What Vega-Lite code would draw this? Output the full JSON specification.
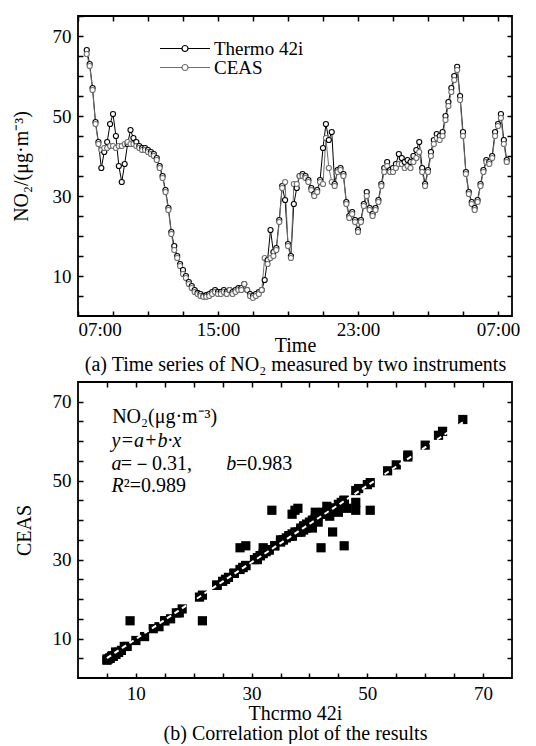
{
  "$schema": "https://vega.github.io/schema/vega-lite/v6.json",
  "padding": {"left": 10, "top": 14, "right": 10, "bottom": 0},
  "spacing": 5,
  "config": {
    "font": "Liberation Serif",
    "view": {"stroke": "black", "strokeWidth": 1.8},
    "axis": {
      "labelFont": "Liberation Serif", "titleFont": "Liberation Serif",
      "labelFontSize": 19, "titleFontSize": 20, "titleFontWeight": "normal",
      "labelColor": "black", "titleColor": "black", "tickColor": "black",
      "domain": false, "grid": false, "tickSize": -5, "tickWidth": 1.5
    },
    "legend": {"labelFont": "Liberation Serif", "labelFontSize": 19, "labelColor": "black", "padding": 0, "rowPadding": -1}
  },
  "data": {"values": [
    {"time":"2019-05-01T07:30","thermo":66.5,"ceas":65.5},
    {"time":"2019-05-01T07:40","thermo":63,"ceas":62.5},
    {"time":"2019-05-01T07:50","thermo":57,"ceas":56.5},
    {"time":"2019-05-01T08:00","thermo":48.5,"ceas":48},
    {"time":"2019-05-01T08:10","thermo":43.5,"ceas":43},
    {"time":"2019-05-01T08:20","thermo":37,"ceas":41.5},
    {"time":"2019-05-01T08:30","thermo":41,"ceas":42},
    {"time":"2019-05-01T08:40","thermo":43.5,"ceas":42},
    {"time":"2019-05-01T08:50","thermo":48,"ceas":42.5},
    {"time":"2019-05-01T09:00","thermo":50.5,"ceas":42.5},
    {"time":"2019-05-01T09:10","thermo":45,"ceas":42},
    {"time":"2019-05-01T09:20","thermo":37.5,"ceas":42.5},
    {"time":"2019-05-01T09:30","thermo":33.5,"ceas":42.5},
    {"time":"2019-05-01T09:40","thermo":38,"ceas":43},
    {"time":"2019-05-01T09:50","thermo":43,"ceas":43.5},
    {"time":"2019-05-01T10:00","thermo":46.5,"ceas":43},
    {"time":"2019-05-01T10:10","thermo":44.5,"ceas":43},
    {"time":"2019-05-01T10:20","thermo":43.5,"ceas":42.5},
    {"time":"2019-05-01T10:30","thermo":42.5,"ceas":42},
    {"time":"2019-05-01T10:40","thermo":42,"ceas":41.5},
    {"time":"2019-05-01T10:50","thermo":42,"ceas":41.5},
    {"time":"2019-05-01T11:00","thermo":41.5,"ceas":41},
    {"time":"2019-05-01T11:10","thermo":41,"ceas":40.5},
    {"time":"2019-05-01T11:20","thermo":40.5,"ceas":40},
    {"time":"2019-05-01T11:30","thermo":39.5,"ceas":39},
    {"time":"2019-05-01T11:40","thermo":37.5,"ceas":37},
    {"time":"2019-05-01T11:50","thermo":35,"ceas":34.5},
    {"time":"2019-05-01T12:00","thermo":31.5,"ceas":31},
    {"time":"2019-05-01T12:10","thermo":27,"ceas":26.5},
    {"time":"2019-05-01T12:20","thermo":21,"ceas":20.5},
    {"time":"2019-05-01T12:30","thermo":17.5,"ceas":16.5},
    {"time":"2019-05-01T12:40","thermo":15,"ceas":14.5},
    {"time":"2019-05-01T12:50","thermo":13,"ceas":12.5},
    {"time":"2019-05-01T13:00","thermo":11.5,"ceas":10.5},
    {"time":"2019-05-01T13:10","thermo":10,"ceas":9.5},
    {"time":"2019-05-01T13:20","thermo":8.5,"ceas":8},
    {"time":"2019-05-01T13:30","thermo":7.5,"ceas":7},
    {"time":"2019-05-01T13:40","thermo":6.5,"ceas":6},
    {"time":"2019-05-01T13:50","thermo":5.8,"ceas":5.5},
    {"time":"2019-05-01T14:00","thermo":5.5,"ceas":5},
    {"time":"2019-05-01T14:10","thermo":5,"ceas":4.8},
    {"time":"2019-05-01T14:20","thermo":5.2,"ceas":4.8},
    {"time":"2019-05-01T14:30","thermo":5.5,"ceas":5},
    {"time":"2019-05-01T14:40","thermo":6,"ceas":5.5},
    {"time":"2019-05-01T14:50","thermo":6.5,"ceas":6},
    {"time":"2019-05-01T15:00","thermo":6,"ceas":5.5},
    {"time":"2019-05-01T15:10","thermo":6,"ceas":5.5},
    {"time":"2019-05-01T15:20","thermo":6.5,"ceas":6},
    {"time":"2019-05-01T15:30","thermo":6,"ceas":5.5},
    {"time":"2019-05-01T15:40","thermo":6.5,"ceas":6.5},
    {"time":"2019-05-01T15:50","thermo":6,"ceas":5.5},
    {"time":"2019-05-01T16:00","thermo":6.5,"ceas":6},
    {"time":"2019-05-01T16:10","thermo":7,"ceas":6.5},
    {"time":"2019-05-01T16:20","thermo":7,"ceas":6.5},
    {"time":"2019-05-01T16:30","thermo":8,"ceas":8},
    {"time":"2019-05-01T16:40","thermo":6.5,"ceas":6.5},
    {"time":"2019-05-01T16:50","thermo":5.5,"ceas":5},
    {"time":"2019-05-01T17:00","thermo":5,"ceas":4.5},
    {"time":"2019-05-01T17:10","thermo":5.5,"ceas":5},
    {"time":"2019-05-01T17:20","thermo":6,"ceas":5.5},
    {"time":"2019-05-01T17:30","thermo":6.5,"ceas":6.5},
    {"time":"2019-05-01T17:40","thermo":9,"ceas":14.5},
    {"time":"2019-05-01T17:50","thermo":14,"ceas":13},
    {"time":"2019-05-01T18:00","thermo":21.5,"ceas":14.5},
    {"time":"2019-05-01T18:10","thermo":16,"ceas":15},
    {"time":"2019-05-01T18:20","thermo":17,"ceas":16.5},
    {"time":"2019-05-01T18:30","thermo":24,"ceas":23.5},
    {"time":"2019-05-01T18:40","thermo":32.5,"ceas":32},
    {"time":"2019-05-01T18:50","thermo":29,"ceas":33.5},
    {"time":"2019-05-01T19:00","thermo":18,"ceas":17.5},
    {"time":"2019-05-01T19:10","thermo":15,"ceas":14.5},
    {"time":"2019-05-01T19:20","thermo":28,"ceas":33},
    {"time":"2019-05-01T19:30","thermo":32,"ceas":33},
    {"time":"2019-05-01T19:40","thermo":35,"ceas":35},
    {"time":"2019-05-01T19:50","thermo":35.5,"ceas":35},
    {"time":"2019-05-01T20:00","thermo":35,"ceas":34.5},
    {"time":"2019-05-01T20:10","thermo":34,"ceas":33.5},
    {"time":"2019-05-01T20:20","thermo":32,"ceas":31.5},
    {"time":"2019-05-01T20:30","thermo":30.5,"ceas":30},
    {"time":"2019-05-01T20:40","thermo":31.5,"ceas":31},
    {"time":"2019-05-01T20:50","thermo":34,"ceas":33.5},
    {"time":"2019-05-01T21:00","thermo":42,"ceas":33},
    {"time":"2019-05-01T21:10","thermo":48,"ceas":44.5},
    {"time":"2019-05-01T21:20","thermo":44,"ceas":37},
    {"time":"2019-05-01T21:30","thermo":46,"ceas":33.5},
    {"time":"2019-05-01T21:40","thermo":33,"ceas":32.5},
    {"time":"2019-05-01T21:50","thermo":36.5,"ceas":36},
    {"time":"2019-05-01T22:00","thermo":37,"ceas":36.5},
    {"time":"2019-05-01T22:10","thermo":35.5,"ceas":35},
    {"time":"2019-05-01T22:20","thermo":28.5,"ceas":28},
    {"time":"2019-05-01T22:30","thermo":25,"ceas":24.5},
    {"time":"2019-05-01T22:40","thermo":26,"ceas":25.5},
    {"time":"2019-05-01T22:50","thermo":24,"ceas":23.5},
    {"time":"2019-05-01T23:00","thermo":21.5,"ceas":21},
    {"time":"2019-05-01T23:10","thermo":24,"ceas":23.5},
    {"time":"2019-05-01T23:20","thermo":28,"ceas":27.5},
    {"time":"2019-05-01T23:30","thermo":31,"ceas":30},
    {"time":"2019-05-01T23:40","thermo":27,"ceas":26.5},
    {"time":"2019-05-01T23:50","thermo":25.5,"ceas":25},
    {"time":"2019-05-02T00:00","thermo":27,"ceas":26.5},
    {"time":"2019-05-02T00:10","thermo":29,"ceas":28.5},
    {"time":"2019-05-02T00:20","thermo":33,"ceas":32.5},
    {"time":"2019-05-02T00:30","thermo":37,"ceas":36},
    {"time":"2019-05-02T00:40","thermo":38.5,"ceas":37.5},
    {"time":"2019-05-02T00:50","thermo":36.5,"ceas":36},
    {"time":"2019-05-02T01:00","thermo":37,"ceas":36},
    {"time":"2019-05-02T01:10","thermo":38,"ceas":37},
    {"time":"2019-05-02T01:20","thermo":40.5,"ceas":38},
    {"time":"2019-05-02T01:30","thermo":39.5,"ceas":38},
    {"time":"2019-05-02T01:40","thermo":38.5,"ceas":37},
    {"time":"2019-05-02T01:50","thermo":39,"ceas":37.5},
    {"time":"2019-05-02T02:00","thermo":38.5,"ceas":37},
    {"time":"2019-05-02T02:10","thermo":40,"ceas":38.5},
    {"time":"2019-05-02T02:20","thermo":41.5,"ceas":39.5},
    {"time":"2019-05-02T02:30","thermo":43.5,"ceas":41},
    {"time":"2019-05-02T02:40","thermo":37,"ceas":36},
    {"time":"2019-05-02T02:50","thermo":33,"ceas":32.5},
    {"time":"2019-05-02T03:00","thermo":36.5,"ceas":36},
    {"time":"2019-05-02T03:10","thermo":41,"ceas":40},
    {"time":"2019-05-02T03:20","thermo":44,"ceas":43},
    {"time":"2019-05-02T03:30","thermo":45.5,"ceas":44.5},
    {"time":"2019-05-02T03:40","thermo":45,"ceas":44},
    {"time":"2019-05-02T03:50","thermo":46,"ceas":45},
    {"time":"2019-05-02T04:00","thermo":50,"ceas":49},
    {"time":"2019-05-02T04:10","thermo":53.5,"ceas":52.5},
    {"time":"2019-05-02T04:20","thermo":57,"ceas":56},
    {"time":"2019-05-02T04:30","thermo":60,"ceas":59},
    {"time":"2019-05-02T04:40","thermo":62.3,"ceas":61.5},
    {"time":"2019-05-02T04:50","thermo":55,"ceas":54},
    {"time":"2019-05-02T05:00","thermo":46,"ceas":45},
    {"time":"2019-05-02T05:10","thermo":36,"ceas":35.5},
    {"time":"2019-05-02T05:20","thermo":31,"ceas":30.5},
    {"time":"2019-05-02T05:30","thermo":28.5,"ceas":28},
    {"time":"2019-05-02T05:40","thermo":27,"ceas":26.5},
    {"time":"2019-05-02T05:50","thermo":29,"ceas":28.5},
    {"time":"2019-05-02T06:00","thermo":33,"ceas":32.5},
    {"time":"2019-05-02T06:10","thermo":36.5,"ceas":36},
    {"time":"2019-05-02T06:20","thermo":39,"ceas":38.5},
    {"time":"2019-05-02T06:30","thermo":38.5,"ceas":38},
    {"time":"2019-05-02T06:40","thermo":40,"ceas":39.5},
    {"time":"2019-05-02T06:50","thermo":46,"ceas":45},
    {"time":"2019-05-02T07:00","thermo":48,"ceas":47.5},
    {"time":"2019-05-02T07:10","thermo":50.5,"ceas":49.5},
    {"time":"2019-05-02T07:20","thermo":44,"ceas":43},
    {"time":"2019-05-02T07:30","thermo":39,"ceas":38.5}
  ]},
  "vconcat": [
    {
      "width": 434,
      "height": 300,
      "transform": [{"fold": ["thermo", "ceas"], "as": ["series", "value"]}],
      "layer": [
        {
          "mark": {"type": "line", "strokeWidth": 1},
          "encoding": {
            "x": {"field": "time", "type": "temporal",
              "scale": {"domain": [{"year": 2019, "month": 5, "date": 1, "hours": 7}, {"year": 2019, "month": 5, "date": 2, "hours": 7, "minutes": 48}]},
              "axis": {"orient": "bottom", "title": ["Time", "(a) Time series of NO₂ measured by two instruments"], "titleLineHeight": 19, "titlePadding": -4, "labelPadding": 9,
                "values": [{"year": 2019, "month": 5, "date": 1, "hours": 7}, {"year": 2019, "month": 5, "date": 1, "hours": 9}, {"year": 2019, "month": 5, "date": 1, "hours": 11}, {"year": 2019, "month": 5, "date": 1, "hours": 13}, {"year": 2019, "month": 5, "date": 1, "hours": 15}, {"year": 2019, "month": 5, "date": 1, "hours": 17}, {"year": 2019, "month": 5, "date": 1, "hours": 19}, {"year": 2019, "month": 5, "date": 1, "hours": 21}, {"year": 2019, "month": 5, "date": 1, "hours": 23}, {"year": 2019, "month": 5, "date": 2, "hours": 1}, {"year": 2019, "month": 5, "date": 2, "hours": 3}, {"year": 2019, "month": 5, "date": 2, "hours": 5}, {"year": 2019, "month": 5, "date": 2, "hours": 7}],
                "labelExpr": "hours(datum.value) % 8 == 7 ? timeFormat(datum.value, '%H:%M') : ''"}},
            "y": {"field": "value", "type": "quantitative", "scale": {"domain": [0, 75], "nice": false},
              "axis": {"title": "NO₂/(μg·m⁻³)", "titlePadding": 21, "labelPadding": 12, "values": [5, 10, 15, 20, 25, 30, 35, 40, 45, 50, 55, 60, 65, 70, 75],
                "labelExpr": "datum.value % 20 == 10 ? datum.label : ''"}},
            "stroke": {"field": "series", "type": "nominal", "scale": {"domain": ["thermo", "ceas"], "range": ["#000000", "#707070"]},
              "legend": {"title": null, "orient": "none", "legendX": 81, "legendY": 24, "clipHeight": 17, "symbolSize": 2500, "symbolStrokeWidth": 1.2, "labelOffset": 3,
                "symbolType": "M-1,0H-0.12M0.12,0H1M-0.12,0A0.12,0.12 0 1,0 0.12,0A0.12,0.12 0 1,0 -0.12,0", "symbolFillColor": "white",
                "labelExpr": "datum.value == 'thermo' ? 'Thermo 42i' : 'CEAS'"}}
          }
        },
        {
          "mark": {"type": "point", "filled": false, "fill": "white", "fillOpacity": 1, "size": 26, "strokeWidth": 1.1},
          "encoding": {
            "x": {"field": "time", "type": "temporal", "axis": null},
            "y": {"field": "value", "type": "quantitative", "axis": null},
            "stroke": {"field": "series", "type": "nominal",
              "legend": {"title": null, "orient": "none", "legendX": 81, "legendY": 24, "clipHeight": 17, "symbolSize": 2500, "symbolStrokeWidth": 1.2, "labelOffset": 3,
                "symbolType": "M-1,0H-0.12M0.12,0H1M-0.12,0A0.12,0.12 0 1,0 0.12,0A0.12,0.12 0 1,0 -0.12,0", "symbolFillColor": "white",
                "labelExpr": "datum.value == 'thermo' ? 'Thermo 42i' : 'CEAS'"}}
          }
        },
        {
          "mark": {"type": "point", "opacity": 0},
          "encoding": {
            "x": {"field": "time", "type": "temporal",
              "axis": {"orient": "top", "labels": false, "title": null,
                "values": [{"year": 2019, "month": 5, "date": 1, "hours": 7}, {"year": 2019, "month": 5, "date": 1, "hours": 9}, {"year": 2019, "month": 5, "date": 1, "hours": 11}, {"year": 2019, "month": 5, "date": 1, "hours": 13}, {"year": 2019, "month": 5, "date": 1, "hours": 15}, {"year": 2019, "month": 5, "date": 1, "hours": 17}, {"year": 2019, "month": 5, "date": 1, "hours": 19}, {"year": 2019, "month": 5, "date": 1, "hours": 21}, {"year": 2019, "month": 5, "date": 1, "hours": 23}, {"year": 2019, "month": 5, "date": 2, "hours": 1}, {"year": 2019, "month": 5, "date": 2, "hours": 3}, {"year": 2019, "month": 5, "date": 2, "hours": 5}, {"year": 2019, "month": 5, "date": 2, "hours": 7}]}},
            "y": {"field": "value", "type": "quantitative",
              "axis": {"orient": "right", "labels": false, "title": null, "values": [5, 10, 15, 20, 25, 30, 35, 40, 45, 50, 55, 60, 65, 70, 75]}}
          }
        }
      ],
      "resolve": {"axis": {"x": "independent", "y": "independent"}}
    },
    {
      "width": 434,
      "height": 296,
      "layer": [
        {
          "mark": {"type": "point", "shape": "square", "filled": true, "color": "black", "size": 85, "opacity": 1},
          "encoding": {
            "x": {"field": "thermo", "type": "quantitative", "scale": {"domain": [0, 75], "nice": false},
              "axis": {"title": ["Thcrmo 42i", "(b) Correlation plot of the results"], "titleLineHeight": 20, "titlePadding": 0, "labelPadding": 11,
                "values": [5, 10, 15, 20, 25, 30, 35, 40, 45, 50, 55, 60, 65, 70], "labelExpr": "datum.value % 20 == 10 ? datum.label : ''"}},
            "y": {"field": "ceas", "type": "quantitative", "scale": {"domain": [0, 75], "nice": false},
              "axis": {"title": "CEAS", "titlePadding": 18, "labelPadding": 12,
                "values": [5, 10, 15, 20, 25, 30, 35, 40, 45, 50, 55, 60, 65, 70], "labelExpr": "datum.value % 20 == 10 ? datum.label : ''"}}
          }
        },
        {
          "mark": {"type": "point", "opacity": 0},
          "encoding": {
            "x": {"field": "thermo", "type": "quantitative",
              "axis": {"orient": "top", "labels": false, "title": null, "values": [5, 10, 15, 20, 25, 30, 35, 40, 45, 50, 55, 60, 65, 70]}},
            "y": {"field": "ceas", "type": "quantitative",
              "axis": {"orient": "right", "labels": false, "title": null, "values": [5, 10, 15, 20, 25, 30, 35, 40, 45, 50, 55, 60, 65, 70]}}
          }
        },
        {
          "transform": [{"regression": "ceas", "on": "thermo"}],
          "mark": {"type": "line", "color": "white", "strokeWidth": 2, "strokeDash": [5, 4]},
          "encoding": {
            "x": {"field": "thermo", "type": "quantitative", "axis": null},
            "y": {"field": "ceas", "type": "quantitative", "axis": null}
          }
        },
        {
          "data": {"values": [{}]},
          "mark": {"type": "text", "text": "NO₂(μg·m⁻³)", "align": "left", "baseline": "middle", "fontSize": 20, "font": "Liberation Serif", "color": "black"},
          "encoding": {"x": {"datum": 5.9, "type": "quantitative", "axis": null}, "y": {"datum": 66.1, "type": "quantitative", "axis": null}}
        },
        {
          "data": {"values": [{}]},
          "mark": {"type": "text", "text": "y=a+b·x", "align": "left", "baseline": "middle", "fontSize": 20, "fontStyle": "italic", "font": "Liberation Serif", "color": "black"},
          "encoding": {"x": {"datum": 5.8, "type": "quantitative", "axis": null}, "y": {"datum": 60.1, "type": "quantitative", "axis": null}}
        },
        {
          "data": {"values": [{}]},
          "mark": {"type": "text", "text": "a", "align": "left", "baseline": "middle", "fontSize": 20, "fontStyle": "italic", "font": "Liberation Serif", "color": "black"},
          "encoding": {"x": {"datum": 5.8, "type": "quantitative", "axis": null}, "y": {"datum": 54.2, "type": "quantitative", "axis": null}}
        },
        {
          "data": {"values": [{}]},
          "mark": {"type": "text", "text": "=－0.31,", "align": "left", "baseline": "middle", "fontSize": 20, "font": "Liberation Serif", "color": "black"},
          "encoding": {"x": {"datum": 7.4, "type": "quantitative", "axis": null}, "y": {"datum": 54.2, "type": "quantitative", "axis": null}}
        },
        {
          "data": {"values": [{}]},
          "mark": {"type": "text", "text": "b", "align": "left", "baseline": "middle", "fontSize": 20, "fontStyle": "italic", "font": "Liberation Serif", "color": "black"},
          "encoding": {"x": {"datum": 25.6, "type": "quantitative", "axis": null}, "y": {"datum": 54.2, "type": "quantitative", "axis": null}}
        },
        {
          "data": {"values": [{}]},
          "mark": {"type": "text", "text": "=0.983", "align": "left", "baseline": "middle", "fontSize": 20, "font": "Liberation Serif", "color": "black"},
          "encoding": {"x": {"datum": 27.3, "type": "quantitative", "axis": null}, "y": {"datum": 54.2, "type": "quantitative", "axis": null}}
        },
        {
          "data": {"values": [{}]},
          "mark": {"type": "text", "text": "R", "align": "left", "baseline": "middle", "fontSize": 20, "fontStyle": "italic", "font": "Liberation Serif", "color": "black"},
          "encoding": {"x": {"datum": 5.8, "type": "quantitative", "axis": null}, "y": {"datum": 48.7, "type": "quantitative", "axis": null}}
        },
        {
          "data": {"values": [{}]},
          "mark": {"type": "text", "text": "²=0.989", "align": "left", "baseline": "middle", "fontSize": 20, "font": "Liberation Serif", "color": "black"},
          "encoding": {"x": {"datum": 7.9, "type": "quantitative", "axis": null}, "y": {"datum": 48.7, "type": "quantitative", "axis": null}}
        }
      ],
      "resolve": {"axis": {"x": "independent", "y": "independent"}}
    }
  ]
}
